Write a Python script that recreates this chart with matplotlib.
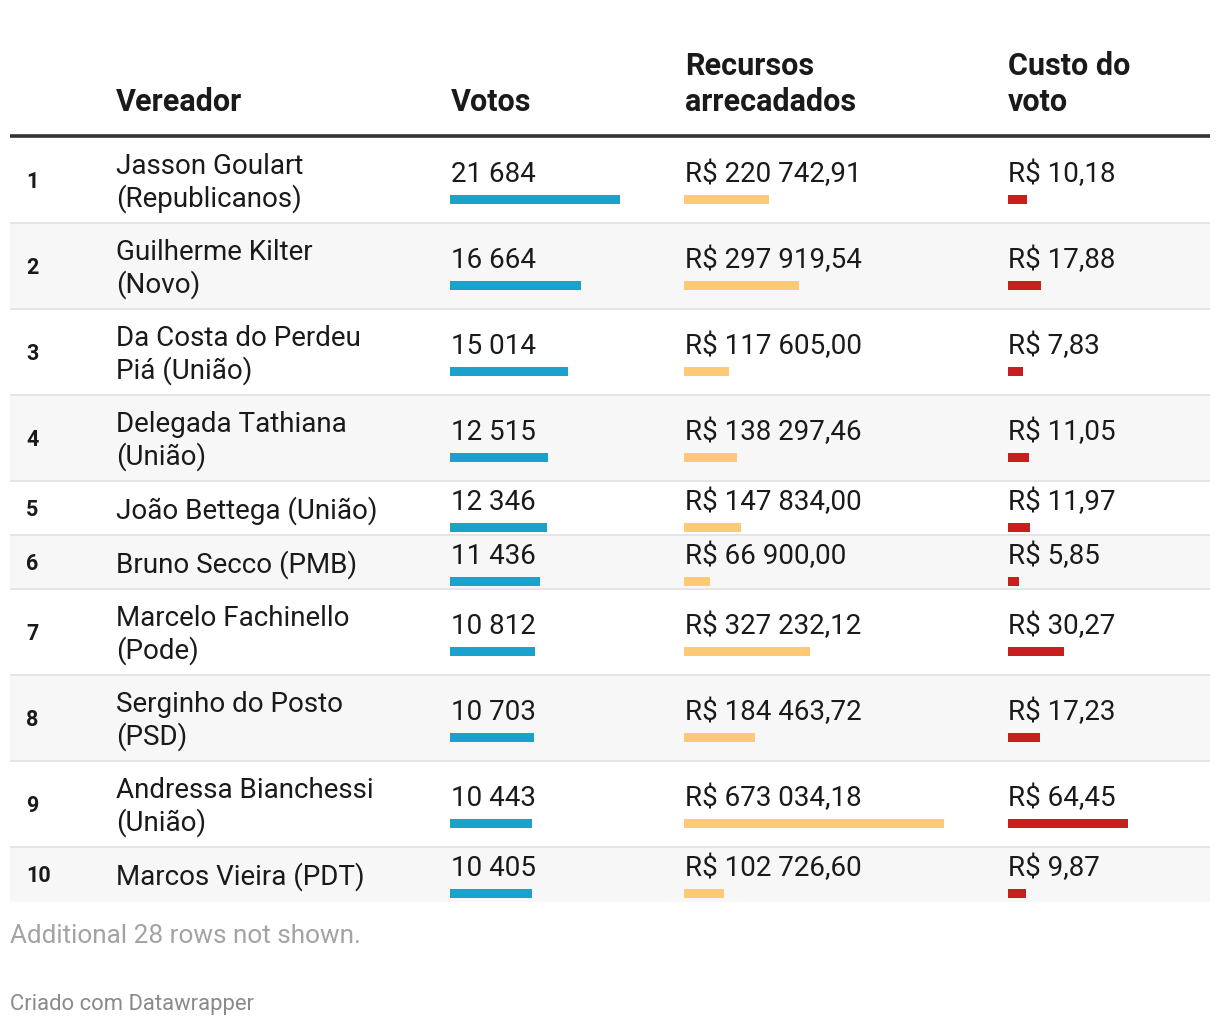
import matplotlib
matplotlib.use("Agg")
import matplotlib.pyplot as plt
from matplotlib.patches import Rectangle

# ---------------- data ----------------
ranks = ["1", "2", "3", "4", "5", "6", "7", "8", "9", "10"]
names = [
    "Jasson Goulart\n(Republicanos)",
    "Guilherme Kilter\n(Novo)",
    "Da Costa do Perdeu\nPiá (União)",
    "Delegada Tathiana\n(União)",
    "João Bettega (União)",
    "Bruno Secco (PMB)",
    "Marcelo Fachinello\n(Pode)",
    "Serginho do Posto\n(PSD)",
    "Andressa Bianchessi\n(União)",
    "Marcos Vieira (PDT)",
]
votos = [21684, 16664, 15014, 12515, 12346, 11436, 10812, 10703, 10443, 10405]
recursos = [220742.91, 297919.54, 117605.00, 138297.46, 147834.00,
            66900.00, 327232.12, 184463.72, 673034.18, 102726.60]
custo = [10.18, 17.88, 7.83, 11.05, 11.97, 5.85, 30.27, 17.23, 64.45, 9.87]
headers = ["Vereador", "Votos", "Recursos\narrecadados", "Custo do\nvoto"]
note = "Additional 28 rows not shown."
credit = "Criado com Datawrapper"

# ---------------- style ----------------
FONT = "Roboto"
TXT = "#1a1a1a"
BLUE = "#1aa1cc"
YELLOW = "#fdc974"
RED = "#c71e1f"
ALT_BG = "#f7f7f7"
SEP = "#e5e5e5"
BODY = 20
HEAD = 22

W, H = 1220, 1026
fig = plt.figure(figsize=(W / 100, H / 100), dpi=100)
fig.patch.set_facecolor("white")
ax = fig.add_axes([0, 0, 1, 1])
ax.set_xlim(0, W)
ax.set_ylim(H, 0)
ax.axis("off")


def fmt_int(v):
    return f"{v:,}".replace(",", " ")


def fmt_brl(v):
    s = f"{v:,.2f}"
    s = s.replace(",", "#").replace(".", ",").replace("#", " ")
    return "R$ " + s


# layout (pixels)
LEFT, RIGHT = 10, 1210
X_RANK, X_NAME = 26, 116
COLS = [(450, 170), (684, 260), (1008, 120)]  # bar start, bar span for max value
X_HEAD = [116, 451, 685, 1008]

# header
HEAD_BASE = 111
HEAD_LS = 36
for x, h in zip(X_HEAD, headers):
    lines = h.split("\n")
    n = len(lines)
    for i, ln in enumerate(lines):
        ax.text(x, HEAD_BASE - (n - 1 - i) * HEAD_LS, ln, fontsize=HEAD,
                fontweight="bold", family=FONT, color=TXT, va="baseline", ha="left")
ax.plot([LEFT, RIGHT], [135.8, 135.8], color="#333333", lw=2.6,
        solid_capstyle="butt")

# rows
top = 137.5
centers = []
for i, name in enumerate(names):
    lines = name.split("\n")
    n = len(lines)
    h = 54 + 32 * (n - 1)
    bottom = top + h
    c = (top + bottom) / 2
    centers.append(c)
    if i % 2 == 1:
        ax.add_patch(Rectangle((LEFT, top), RIGHT - LEFT, h, facecolor=ALT_BG,
                               edgecolor="none", zorder=0))
    if i < len(names) - 1:
        ax.plot([LEFT, RIGHT], [bottom - 0.5, bottom - 0.5], color=SEP, lw=1.4,
                zorder=1, solid_capstyle="butt")
    ax.text(X_RANK, c + 1, ranks[i], fontsize=15.5, fontweight="bold",
            family=FONT, color=TXT, va="center", ha="left")
    for j, ln in enumerate(lines):
        ax.text(X_NAME, c + 10 + (j - (n - 1) / 2) * 33, ln, fontsize=BODY,
                family=FONT, color=TXT, va="baseline", ha="left")
    ax.text(COLS[0][0] + 1, c + 2, fmt_int(votos[i]), fontsize=BODY, family=FONT,
            color=TXT, va="baseline", ha="left")
    ax.text(COLS[1][0] + 1, c + 2, fmt_brl(recursos[i]), fontsize=BODY,
            family=FONT, color=TXT, va="baseline", ha="left")
    ax.text(COLS[2][0], c + 2, "R$ " + f"{custo[i]:.2f}".replace(".", ","),
            fontsize=BODY, family=FONT, color=TXT, va="baseline", ha="left")
    top = bottom

# bars: one axes per column, value scale from data
bar_y = [c + 19 for c in centers]
for (x0, span), vals, col in zip(COLS, [votos, recursos, custo], [BLUE, YELLOW, RED]):
    bax = fig.add_axes([x0 / W, 0, span / W, 1])
    bax.set_xlim(0, max(vals))
    bax.set_ylim(H, 0)
    bax.axis("off")
    bax.barh(bar_y, vals, height=9.5, left=0, color=col, edgecolor="none")

# footer
ax.text(LEFT, 943, note, fontsize=18.8, family=FONT, color="#a3a3a3",
        va="baseline", ha="left")
ax.text(LEFT, 1010, credit, fontsize=15.8, family=FONT, color="#8a8a8a",
        va="baseline", ha="left")

fig.savefig("out.png", dpi=100, facecolor="white")
